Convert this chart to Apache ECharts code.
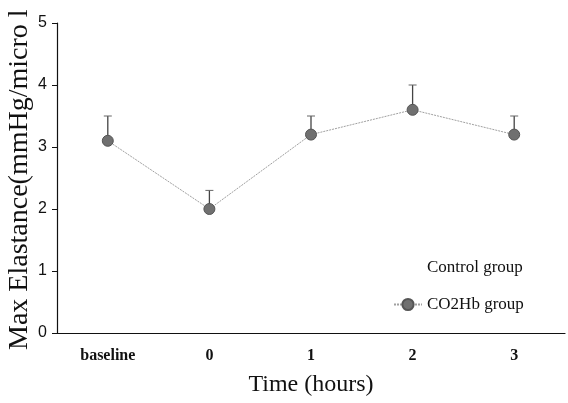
<!DOCTYPE html>
<html><head><meta charset="utf-8">
<script src="https://cdn.jsdelivr.net/npm/echarts@6/dist/echarts.min.js"></script>
<style>html,body{margin:0;padding:0;background:#fff}#c{width:568px;height:403px}</style>
</head><body><div id="c"></div>
<script>
const categories = ['baseline', '0', '1', '2', '3'];
const co2hbMean = [3.1, 2.0, 3.2, 3.6, 3.2];
const co2hbUpper = [3.5, 2.3, 3.5, 4.0, 3.5];
const yTicks = [0, 1, 2, 3, 4, 5];

const chart = echarts.init(document.getElementById('c'));
const serif = '"Liberation Serif", "DejaVu Serif", serif';
chart.setOption({
  animation: false,
  backgroundColor: '#fff',
  grid: { left: 57, right: 3, top: 23, bottom: 70 },
  legend: {
    orient: 'vertical', left: 388, top: 254, itemGap: 20,
    itemWidth: 28, itemHeight: 14,
    textStyle: { fontFamily: serif, fontSize: 17, color: '#111' },
    data: ['Control group', 'CO2Hb group']
  },
  xAxis: {
    type: 'category', data: categories, boundaryGap: true,
    name: 'Time (hours)', nameLocation: 'middle', nameGap: 40,
    nameTextStyle: { fontFamily: serif, fontSize: 24, color: '#111' },
    axisLine: { lineStyle: { color: '#111', width: 1.2 } },
    axisTick: { alignWithLabel: true, length: 5, lineStyle: { color: '#555' } },
    axisLabel: { fontFamily: serif, fontWeight: 'bold', fontSize: 16, color: '#111', margin: 15 }
  },
  yAxis: {
    type: 'value', min: yTicks[0], max: yTicks[yTicks.length - 1], interval: 1,
    splitLine: { show: false },
    axisLine: { show: true, lineStyle: { color: '#111', width: 1.2 } },
    axisTick: { show: true, length: 5, lineStyle: { color: '#111' } },
    axisLabel: { fontFamily: '"Liberation Sans", Arial, sans-serif', fontSize: 16, color: '#111', margin: 10 }
  },
  graphic: [{
    type: 'text', x: 34, y: 350, rotation: Math.PI / 2,
    style: { text: 'Max Elastance(mmHg/micro l', font: '28px "Liberation Serif", serif', fill: '#111', textAlign: 'left', textVerticalAlign: 'bottom' }
  }],
  series: [
    { name: 'Control group', type: 'line', data: [], color: '#fff', symbol: 'none', lineStyle: { color: '#fff' } },
    {
      name: 'CO2Hb group', type: 'line', data: co2hbMean, color: '#6e6e6e',
      symbol: 'circle', symbolSize: 11,
      itemStyle: { color: '#707070', borderColor: '#555', borderWidth: 1 },
      lineStyle: { color: '#a0a0a0', width: 1, type: [2, 1] }, z: 3
    },
    {
      name: 'err', type: 'custom', z: 2,
      data: co2hbMean.map((m, i) => [i, m, co2hbUpper[i]]),
      renderItem: function (params, api) {
        const p0 = api.coord([api.value(0), api.value(1)]);
        const p1 = api.coord([api.value(0), api.value(2)]);
        const w = 4;
        return {
          type: 'group', children: [
            { type: 'line', shape: { x1: p0[0], y1: p0[1], x2: p1[0], y2: p1[1] }, style: { stroke: '#444', lineWidth: 1.3 } },
            { type: 'line', shape: { x1: p1[0] - w, y1: p1[1], x2: p1[0] + w, y2: p1[1] }, style: { stroke: '#666', lineWidth: 1 } }
          ]
        };
      }
    }
  ]
});
</script></body></html>
